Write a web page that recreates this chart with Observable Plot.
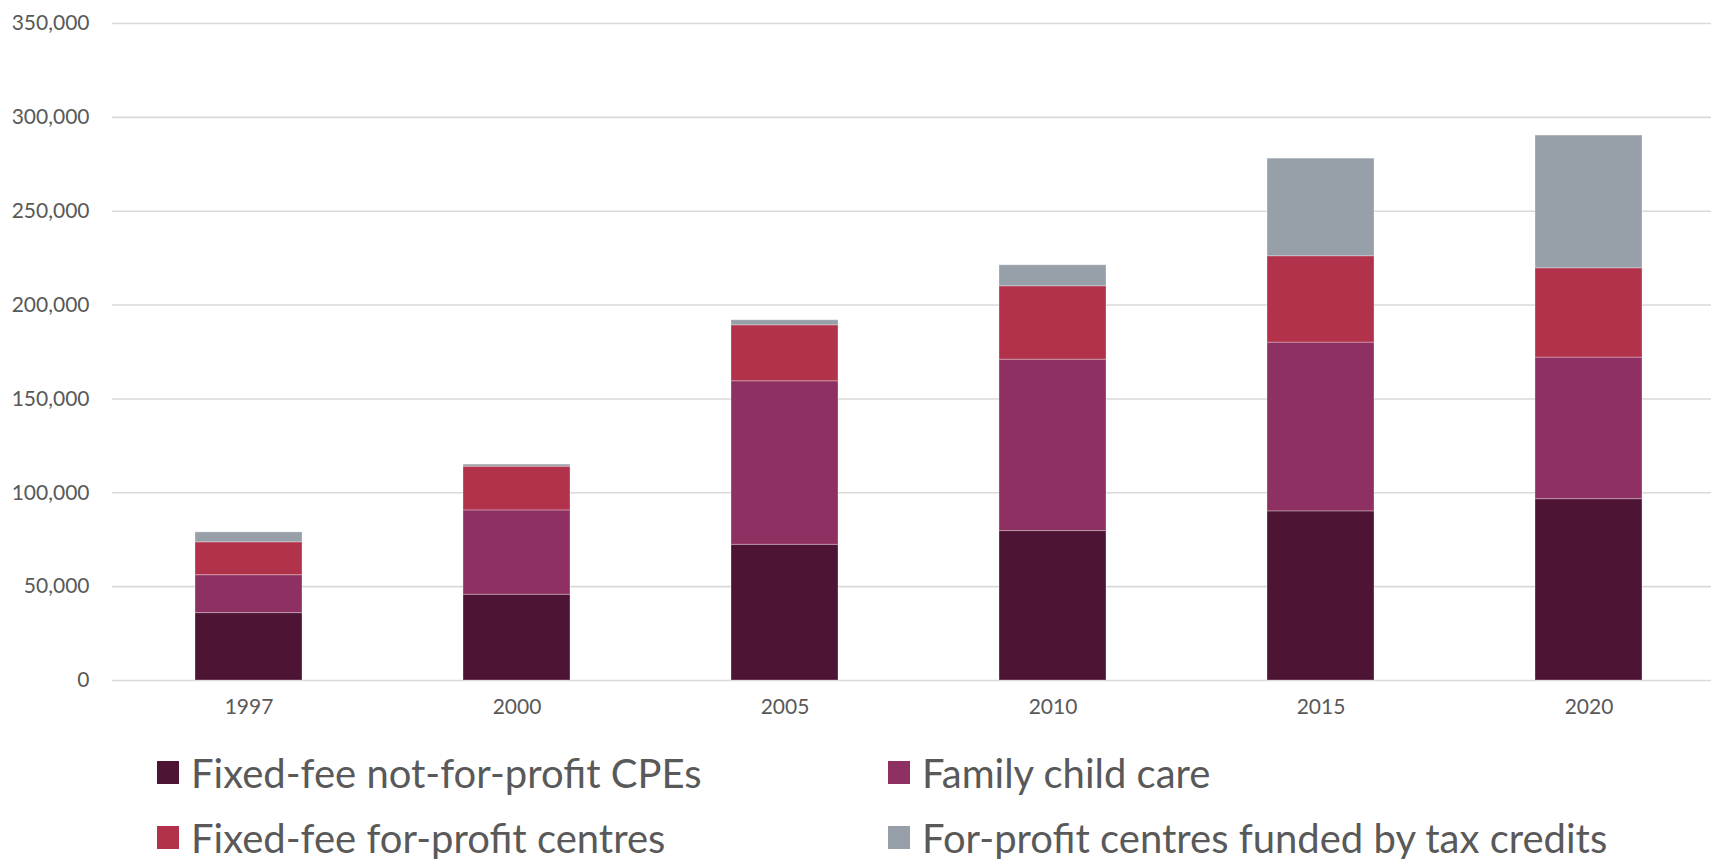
<!DOCTYPE html>
<html>
<head>
<meta charset="utf-8">
<script src="https://cdn.jsdelivr.net/npm/d3@7"></script>
<script src="https://cdn.jsdelivr.net/npm/@observablehq/plot@0.6"></script>
<style>
  html, body { margin: 0; padding: 0; background: #fff; overflow: hidden; }
  #chart svg { display: block; max-width: none !important; }
  #legend { position: relative; height: 130px; margin-top: 15px; font-family: Lato, "Open Sans", sans-serif; color: #595959; }
  .item { position: absolute; display: flex; align-items: center; height: 65px; font-size: 40px; white-space: nowrap; }
  .sw { width: 22px; height: 23px; margin-right: 12px; flex: none; }
</style>
</head>
<body>
<div id="chart"></div>
<div id="legend"></div>
<script>
const years = ["1997", "2000", "2005", "2010", "2015", "2020"];
const series = [
  "Fixed-fee not-for-profit CPEs",
  "Family child care",
  "Fixed-fee for-profit centres",
  "For-profit centres funded by tax credits"
];
const notForProfitCPEs = [35900, 45700, 72300, 79600, 90100, 96600];
const familyChildCare = [20200, 44900, 87100, 91300, 89900, 75400];
const forProfitFixedFee = [17500, 23300, 29800, 39100, 46000, 47600];
const taxCreditCentres = [5300, 1100, 2700, 11200, 52000, 70700];
const yTicks = [0, 50000, 100000, 150000, 200000, 250000, 300000, 350000];
const colors = ["#4d1433", "#8e3061", "#b1324a", "#979fa8"];

const seriesValues = [notForProfitCPEs, familyChildCare, forProfitFixedFee, taxCreditCentres];
const data = [];
series.forEach((s, i) => years.forEach((y, j) => data.push({year: y, series: s, value: seriesValues[i][j]})));

const chart = Plot.plot({
  width: 1725,
  height: 725,
  marginLeft: 112,
  marginRight: 0,
  marginTop: 23,
  marginBottom: 45,
  style: {fontFamily: "Lato, 'Open Sans', sans-serif", fontSize: "21px", color: "#595959", background: "#fff", maxWidth: "none"},
  x: {domain: years, paddingInner: 0.6, paddingOuter: 0.3, label: null, tickSize: 0, tickPadding: 19},
  y: {domain: [0, 350000], ticks: yTicks, tickFormat: d3.format(","), label: null, tickSize: 0, tickPadding: 23},
  color: {domain: series, range: colors},
  marks: [
    Plot.ruleY(yTicks, {stroke: "#d9d9d9", strokeWidth: 1.6}),
    Plot.barY(data, {x: "year", y: "value", fill: "series", stroke: "#ffffff", strokeOpacity: 0.3, strokeWidth: 1, order: series}),
    Plot.axisX({tickSize: 0, tickPadding: 19, label: null}),
    Plot.axisY({ticks: yTicks, tickFormat: d3.format(","), tickSize: 0, tickPadding: 23, label: null})
  ]
});
chart.style.maxWidth = "none";
document.getElementById("chart").appendChild(chart);

const legend = document.getElementById("legend");
const pos = [[157, 0], [888, 0], [157, 65], [888, 65]];
const legendOrder = [0, 1, 2, 3];
legendOrder.forEach((k, i) => {
  const el = document.createElement("div");
  el.className = "item";
  el.style.left = pos[i][0] + "px";
  el.style.top = pos[i][1] + "px";
  const sw = document.createElement("span");
  sw.className = "sw";
  sw.style.background = colors[k];
  const tx = document.createElement("span");
  tx.textContent = series[k];
  el.appendChild(sw);
  el.appendChild(tx);
  legend.appendChild(el);
});
</script>
</body>
</html>
